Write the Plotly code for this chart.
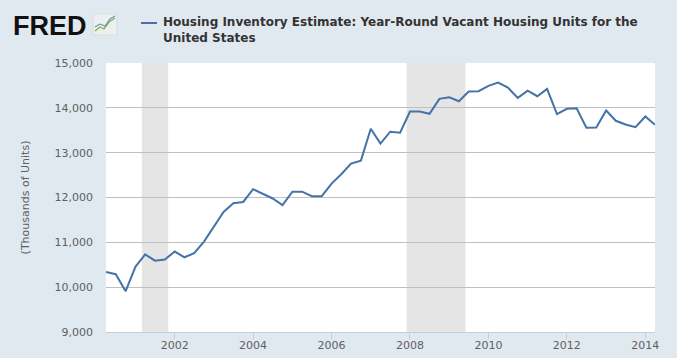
import plotly.graph_objects as go
import pandas as pd

# ---- data ----
start_quarter = "2000-04-01"
vacant_units = [
    10340, 10290, 9910, 10460, 10730, 10590, 10615, 10795, 10667, 10757,
    11018, 11355, 11678, 11872, 11900, 12185, 12075, 11978, 11832, 12130,
    12130, 12029, 12029, 12311, 12518, 12755, 12822, 13533, 13203, 13467,
    13444, 13918, 13918, 13866, 14200, 14237, 14148, 14362, 14370, 14489,
    14562, 14451, 14222, 14384, 14259, 14422, 13859, 13978, 13992, 13556,
    13563, 13940, 13711, 13629, 13570, 13807, 13622,
]
dates = pd.date_range(start_quarter, periods=len(vacant_units), freq="QS")

recession_starts = ["2001-03-01", "2007-12-01"]
recession_ends = ["2001-11-01", "2009-06-01"]

y_ticks = [9000, 10000, 11000, 12000, 13000, 14000, 15000]
x_ticks = ["2002-01-01", "2004-01-01", "2006-01-01", "2008-01-01",
           "2010-01-01", "2012-01-01", "2014-01-01"]
x_tick_labels = ["2002", "2004", "2006", "2008", "2010", "2012", "2014"]

series_name = "Housing Inventory Estimate: Year-Round Vacant Housing Units for the<br>United States"
y_title = "(Thousands of Units)"

# ---- layout geometry ----
W, H = 677, 358
L, R, T, B = 106, 22, 63, 26
PW, PH = W - L - R, H - T - B


def px(x):
    return (x - L) / PW


def py(y):
    return (H - B - y) / PH


LINE_COLOR = "#4572A7"
BG = "#E1E9F0"

fig = go.Figure()
fig.add_trace(go.Scatter(
    x=dates, y=vacant_units, mode="lines",
    line=dict(color=LINE_COLOR, width=2),
    showlegend=False, hoverinfo="x+y",
))

shapes = []
for s, e in zip(recession_starts, recession_ends):
    shapes.append(dict(type="rect", xref="x", yref="paper", x0=s, x1=e,
                       y0=0, y1=1, fillcolor="#E5E5E5", line_width=0,
                       layer="below"))
# legend swatch
shapes.append(dict(type="line", xref="paper", yref="paper",
                   x0=px(141), x1=px(157), y0=py(23), y1=py(23),
                   line=dict(color=LINE_COLOR, width=2)))
# FRED icon
shapes.append(dict(type="rect", xref="paper", yref="paper",
                   x0=px(93), x1=px(117), y0=py(35), y1=py(14),
                   fillcolor="#EEF0F0", line=dict(color="#D8DCDC", width=1)))
shapes.append(dict(type="path", xref="paper", yref="paper",
                   path=f"M {px(95)},{py(31)} L {px(100)},{py(27)} L {px(104)},{py(29)} L {px(109)},{py(22)} L {px(115)},{py(18)}",
                   line=dict(color="#7FB24A", width=1.3)))
shapes.append(dict(type="path", xref="paper", yref="paper",
                   path=f"M {px(95)},{py(27)} L {px(100)},{py(24)} L {px(105)},{py(26)} L {px(110)},{py(19)} L {px(115)},{py(16)}",
                   line=dict(color="#6A8FC0", width=1.1)))

annotations = [
    dict(text="<b>FRED</b>", xref="paper", yref="paper", x=px(11), y=py(9),
         xanchor="left", yanchor="top", showarrow=False,
         font=dict(family="Liberation Sans, Arial", size=27, color="#111111")),
    dict(text="<b>" + series_name.replace("<br>", "</b><br><b>") + "</b>",
         xref="paper", yref="paper", x=px(161), y=py(13),
         xanchor="left", yanchor="top", align="left", showarrow=False,
         font=dict(family="DejaVu Sans, Verdana", size=12, color="#333333")),
]

fig.update_layout(
    width=W, height=H,
    margin=dict(l=L, r=R, t=T, b=B, pad=0, autoexpand=False),
    paper_bgcolor=BG, plot_bgcolor="#FFFFFF",
    shapes=shapes, annotations=annotations,
    xaxis=dict(
        type="date", range=[dates[0], dates[-1]],
        tickvals=x_ticks, ticktext=x_tick_labels,
        showgrid=False, zeroline=False, automargin=False,
        showline=True, linecolor="#C0D0E0", linewidth=1,
        ticks="outside", ticklen=6, tickcolor="#C0D0E0",
        ticklabelstandoff=-3,
        tickfont=dict(family="DejaVu Sans, Verdana", size=11, color="#606060"),
    ),
    yaxis=dict(
        range=[9000, 15000], tickvals=y_ticks, tickformat=",d",
        showgrid=True, gridcolor="#C0C0C0", gridwidth=1, automargin=False,
        zeroline=False, showline=False, ticks="", ticklabelstandoff=12,
        tickfont=dict(family="DejaVu Sans, Verdana", size=11, color="#606060"),
        title=dict(text=y_title, standoff=22,
                   font=dict(family="DejaVu Sans, Verdana", size=11, color="#606060")),
    ),
)

fig.write_html("out.html",
               config={"displayModeBar": False},
               post_script="document.body.style.margin='0';document.body.style.overflow='hidden';document.body.style.background='#E1E9F0';")
